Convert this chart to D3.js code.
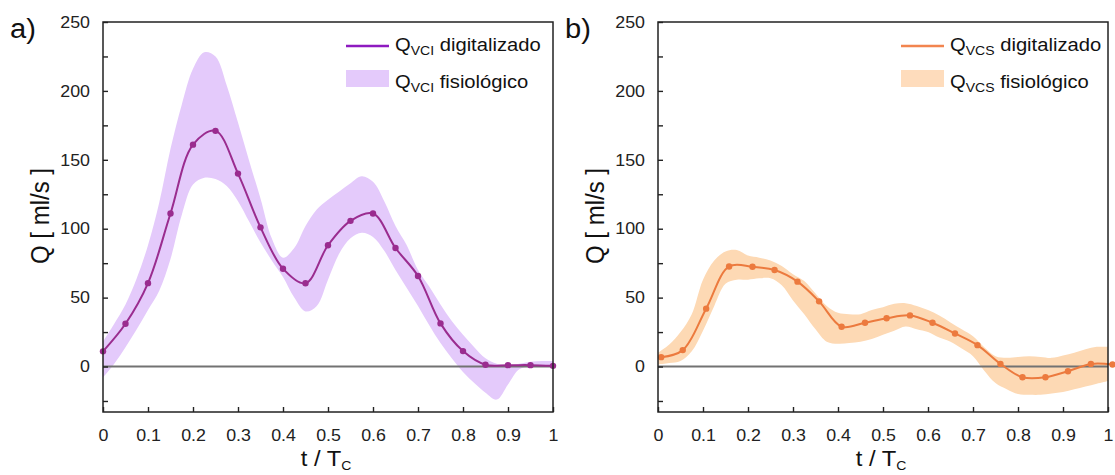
<!DOCTYPE html>
<html>
<head>
<meta charset="utf-8">
<script src="https://cdn.jsdelivr.net/npm/d3@7"></script>
<style>
  html, body { margin: 0; padding: 0; background: #ffffff; }
  svg { display: block; font-family: "Liberation Sans", Arial, sans-serif; }
</style>
</head>
<body>
<svg id="chart" width="1115" height="475"></svg>
<script>
// ---------------- data ----------------
const tVCI = [0, 0.05, 0.1, 0.15, 0.2, 0.25, 0.3, 0.35, 0.4, 0.45, 0.5, 0.55, 0.6, 0.65, 0.7, 0.75, 0.8, 0.85, 0.9, 0.95, 1];
const qVCI = [11, 31, 60.5, 111, 161, 171, 140, 101, 71, 60.4, 88, 105.7, 111, 86, 65.7, 31.3, 11.2, 1.3, 1, 1, 0.5];

const tVCS = [0.007, 0.055, 0.107, 0.158, 0.21, 0.259, 0.31, 0.358, 0.408, 0.46, 0.508, 0.56, 0.61, 0.66, 0.71, 0.761, 0.81, 0.861, 0.911, 0.962, 1.01];
const qVCS = [6.8, 11.9, 42, 72.6, 72.4, 70, 61.6, 47.3, 28.9, 31.8, 35, 37.1, 31.8, 24, 15.5, 1.9, -7.8, -7.8, -3.4, 1.9, 1.5];

const tBand = [0, 0.025, 0.05, 0.075, 0.1, 0.125, 0.15, 0.175, 0.2, 0.225, 0.25, 0.275, 0.3, 0.325, 0.35, 0.375, 0.4, 0.425, 0.45, 0.475, 0.5,
               0.525, 0.55, 0.575, 0.6, 0.625, 0.65, 0.675, 0.7, 0.725, 0.75, 0.775, 0.8, 0.825, 0.85, 0.875, 0.9, 0.925, 0.95, 0.975, 1];
const vciUpper = [18, 31, 45, 64, 88, 119, 158, 190, 216, 228, 225, 204, 177, 149, 122, 93, 79, 86, 102, 114, 121,
                  127, 133, 138, 134, 120, 102, 88, 70, 58, 45, 33, 23, 14, 6, 2, 1, 2, 3.5, 4, 4];
const vciLower = [-8, 2, 14, 27, 41, 55, 78, 110, 132, 137, 136, 131, 120, 105, 90, 77, 65, 50, 40, 44, 63,
                  82, 93, 97, 94, 84, 70, 57, 44, 30, 17, 6, -4, -12, -19, -24, -13, -2, 0, 0.5, 0.5];
const vcsUpper = [10, 16, 25, 38, 63, 77, 83.5, 84.5, 80.5, 79, 77, 73, 67, 62, 53, 44, 39, 38, 38, 41, 43,
                  45.5, 46, 44, 41, 37, 32, 27, 22, 14, 7.5, 6.3, 7, 7.5, 7, 6.3, 8, 10, 12.5, 14.3, 14.3];
const vcsLower = [1.5, 2.5, 4, 11, 26, 44, 60, 63, 63, 64, 64, 59, 48, 38, 27, 18, 16.5, 17, 18, 20, 23,
                  26, 29, 27, 25, 21, 18, 13, 7.5, -3, -12, -16.5, -20, -20.5, -20.5, -19.5, -18.5, -16.5, -14.5, -12.5, -10.5];

const yTicks = [-25, 0, 25, 50, 75, 100, 125, 150, 175, 200, 225, 250];
const yTickLabels = [0, 50, 100, 150, 200, 250];
const xTicks = [0, 0.1, 0.2, 0.3, 0.4, 0.5, 0.6, 0.7, 0.8, 0.9, 1];
const xTickLabels = ["0", "0.1", "0.2", "0.3", "0.4", "0.5", "0.6", "0.7", "0.8", "0.9", "1"];
const yDomain = [-33, 250];

const panels = [
  { id: "a", label: "a)", sub: "VCI", t: tVCI, q: qVCI, up: vciUpper, lo: vciLower,
    left: 103, right: 553, lineColor: "#9a2c8f", legendLine: "#8e1ac0", band: "#e4cafb", legendBand: "#e4cafb" },
  { id: "b", label: "b)", sub: "VCS", t: tVCS, q: qVCS, up: vcsUpper, lo: vcsLower,
    left: 658, right: 1108, lineColor: "#ec7a3e", legendLine: "#f2854f", band: "#fdd9b4", legendBand: "#fedcbc" }
];

// ---------------- drawing ----------------
const svg = d3.select("#chart");
svg.append("rect").attr("width", 1115).attr("height", 475).attr("fill", "#ffffff");
const TOP = 22, BOTTOM = 412;
const SX = 1.08; // slight horizontal stretch of text, as in the reference

panels.forEach(p => {
  const x = d3.scaleLinear().domain([0, 1]).range([p.left, p.right]);
  const y = d3.scaleLinear().domain(yDomain).range([BOTTOM, TOP]);
  const g = svg.append("g");

  const clipId = "clip-" + p.id;
  svg.append("clipPath").attr("id", clipId).append("rect")
    .attr("x", p.left).attr("y", TOP).attr("width", p.right - p.left).attr("height", BOTTOM - TOP);

  // band
  const bandData = tBand.map((t, i) => ({ t, u: p.up[i], l: p.lo[i] }));
  g.append("path")
    .datum(bandData)
    .attr("clip-path", `url(#${clipId})`)
    .attr("fill", p.band)
    .attr("d", d3.area().curve(d3.curveCatmullRom.alpha(0.5))
      .x(d => x(d.t)).y0(d => y(d.l)).y1(d => y(d.u)));

  // zero line
  g.append("line")
    .attr("x1", x(0)).attr("x2", x(1)).attr("y1", y(0)).attr("y2", y(0))
    .attr("stroke", "#727272").attr("stroke-width", 1.8);

  // series line
  const pts = p.t.map((t, i) => ({ t, q: p.q[i] }));
  g.append("path")
    .datum(pts)
    .attr("fill", "none")
    .attr("stroke", p.lineColor)
    .attr("stroke-width", 2)
    .attr("d", d3.line().curve(d3.curveCatmullRom.alpha(0.5)).x(d => x(d.t)).y(d => y(d.q)));
  g.selectAll("circle.pt").data(pts).enter().append("circle")
    .attr("class", "pt")
    .attr("cx", d => x(d.t)).attr("cy", d => y(d.q)).attr("r", 3.2)
    .attr("fill", p.lineColor);

  // axes (ticks inward)
  const yAxis = d3.axisLeft(y).tickValues(yTicks).tickSize(-5).tickPadding(13)
    .tickFormat(d => yTickLabels.includes(d) ? String(d) : "");
  const ya = g.append("g").attr("transform", `translate(${p.left},0)`).call(yAxis);
  const xAxis = d3.axisBottom(x).tickValues(xTicks).tickSize(-5).tickPadding(17)
    .tickFormat((d, i) => xTickLabels[i]);
  const xa = g.append("g").attr("transform", `translate(0,${BOTTOM})`).call(xAxis);
  [ya, xa].forEach(a => {
    a.select(".domain").remove();
    a.selectAll(".tick line").attr("stroke", "#222").attr("stroke-width", 1.4);
    a.selectAll(".tick text").attr("fill", "#222").style("font-size", "16.5px")
      .style("font-family", '"Liberation Sans", Arial, sans-serif');
  });
  ya.selectAll(".tick text").attr("transform", `scale(${SX},1)`).attr("x", -13 / SX);
  xa.selectAll(".tick text").attr("transform", `scale(${SX},1)`).attr("dy", "0.71em");

  // frame
  g.append("rect")
    .attr("x", p.left).attr("y", TOP).attr("width", p.right - p.left).attr("height", BOTTOM - TOP)
    .attr("fill", "none").attr("stroke", "#222").attr("stroke-width", 1.5);

  // panel label
  g.append("text").attr("transform", `translate(${p.left - 93},38) scale(${SX},1)`)
    .style("font-size", "27px").attr("fill", "#111").text(p.label);

  // y title
  g.append("text")
    .attr("transform", `translate(${p.left - 54},216) scale(${SX},1) rotate(-90)`)
    .attr("text-anchor", "middle")
    .style("font-size", "24px").attr("fill", "#111")
    .text("Q [ ml/s ]");

  // x title
  const xt = g.append("text")
    .attr("transform", `translate(${(p.left + p.right) / 2 - 2},466) scale(${SX},1)`)
    .attr("text-anchor", "middle")
    .style("font-size", "22px").attr("fill", "#111");
  xt.append("tspan").text("t / T");
  xt.append("tspan").attr("dy", 4).style("font-size", "13px").text("C");

  // legend
  const lx0 = p.left + 243, lx1 = p.left + 286, tx = p.left + 292;
  g.append("line").attr("x1", lx0).attr("x2", lx1).attr("y1", 46).attr("y2", 46)
    .attr("stroke", p.legendLine).attr("stroke-width", 2.5);
  g.append("rect").attr("x", lx0).attr("y", 70).attr("width", lx1 - lx0).attr("height", 17)
    .attr("fill", p.legendBand);
  const rows = [{ y: 51, txt: " digitalizado" }, { y: 88, txt: " fisiológico" }];
  rows.forEach(r => {
    const t = g.append("text")
      .attr("transform", `translate(${tx},${r.y}) scale(${SX},1)`)
      .style("font-size", "18.7px").attr("fill", "#111");
    t.append("tspan").text("Q");
    t.append("tspan").attr("dy", 4).style("font-size", "13px").text(p.sub);
    t.append("tspan").attr("dy", -4).text(r.txt);
  });
});
</script>
</body>
</html>
